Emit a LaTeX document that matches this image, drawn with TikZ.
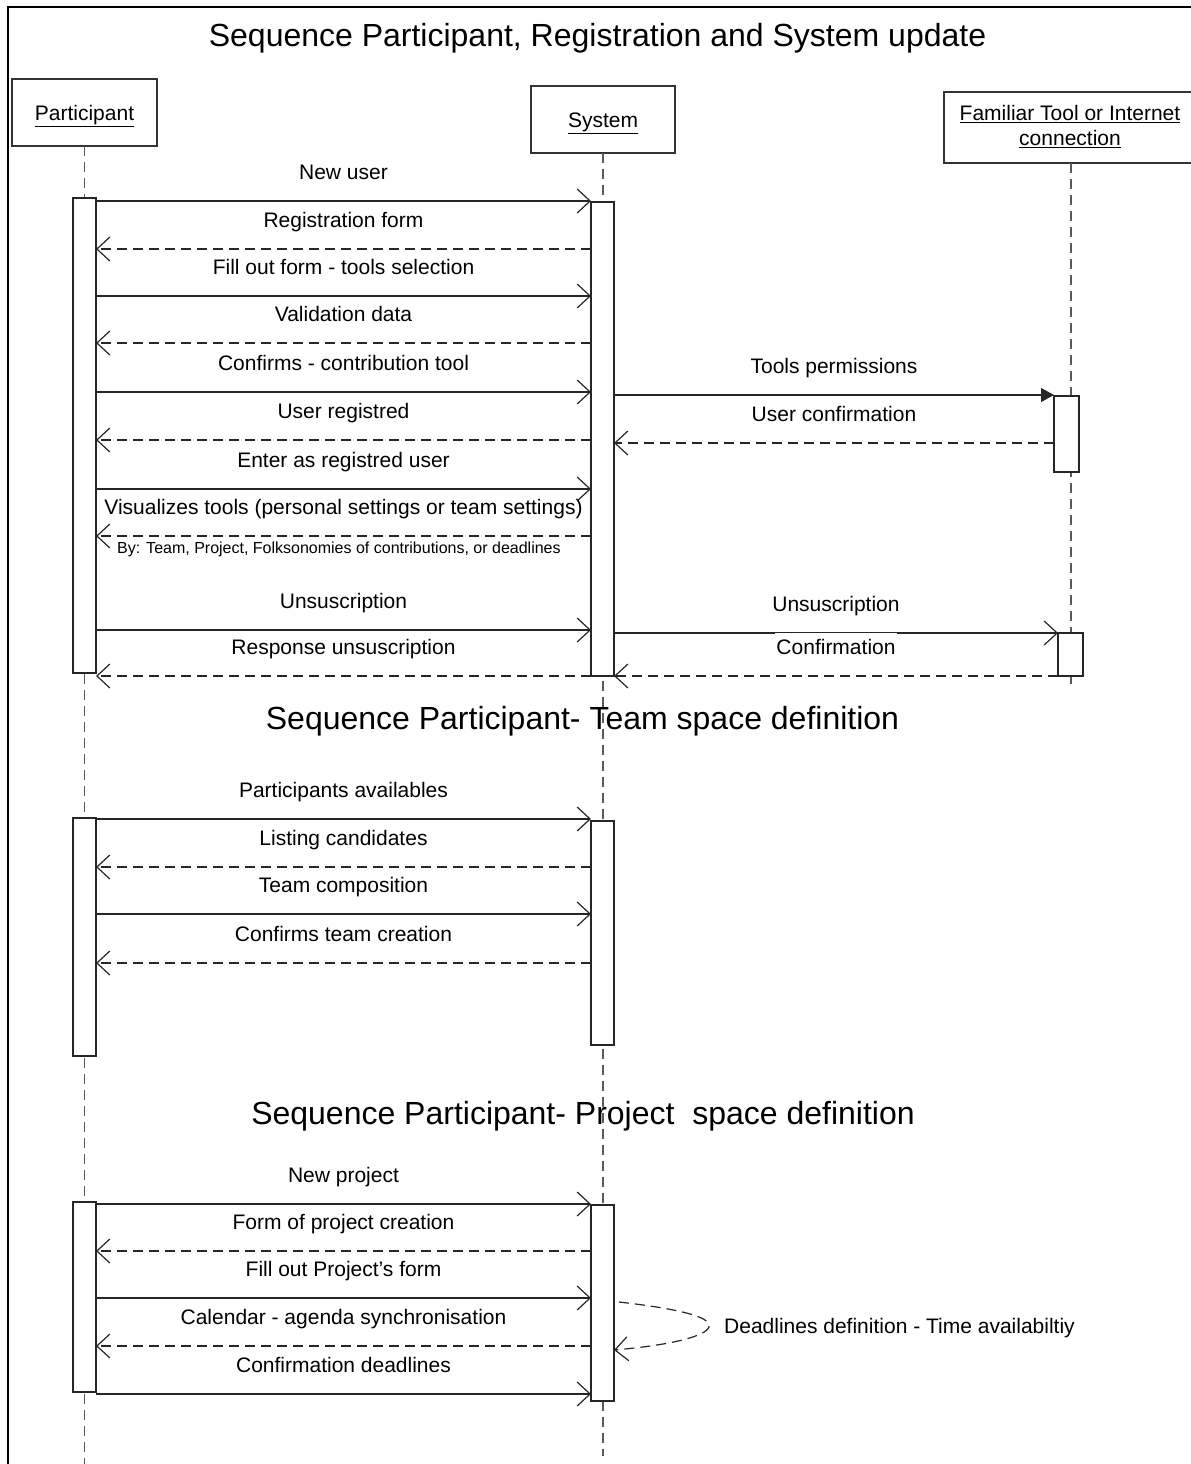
\documentclass[tikz,border=0pt]{standalone}
\usepackage{fontspec}
\setmainfont{Liberation Sans}
\usetikzlibrary{arrows.meta}
\begin{document}
\begin{tikzpicture}[x=1pt,y=-1pt,
  frame/.style={draw=black, line width=2.4pt},
  head/.style={draw=black!80, line width=1.3pt, fill=white, inner sep=0pt, outer sep=0pt,
    font=\fontsize{21}{25}\selectfont, text height=15pt, text depth=0pt},
  act/.style={draw=black!85, line width=1.2pt, fill=white, inner sep=0pt, outer sep=0pt,
    minimum width=23pt, anchor=north west},
  lifeline/.style={draw=black!65, line width=1.3pt, dash pattern=on 10pt off 6pt},
  call/.style={draw=black!85, line width=1.2pt,
    -{Straight Barb[length=13pt,width=24pt,line width=1.2pt]}},
  reply/.style={call, dash pattern=on 10pt off 6pt},
  signal/.style={draw=black!85, line width=1.2pt, -{Triangle[length=13pt,width=14pt]}},
  msg/.style={font=\fontsize{21}{25}\selectfont, inner sep=0pt},
  lbl/.style={msg, midway, anchor=base, yshift=22pt},
  note/.style={font=\fontsize{16}{19}\selectfont, inner sep=0pt, anchor=base west},
  heading/.style={font=\fontsize{32}{38}\selectfont, inner sep=0pt, anchor=base}
]
\useasboundingbox (0,0) rectangle (1191,1464);

% outer frame
\draw[frame] (8,1480) -- (8,7) -- (1215,7);

% lifeline heads
\node[head, minimum width=145pt, minimum height=67pt] (part) at (84.5,112.5) {\underline{Participant}};
\node[head, minimum width=144pt, minimum height=67pt] (sys) at (603,119.5) {\underline{System}};
\node[head, minimum width=253pt, minimum height=71pt, anchor=north west] (tool) at (944,92) {};
\node[msg, align=center] (toollbl) at (1070,126.5) {\underline{Familiar Tool or Internet}\\\underline{connection}};

% lifelines
\coordinate (partend) at (0,1480);
\coordinate (sysend) at (0,1456);
\coordinate (tooltop) at (1071,163);
\coordinate (toolend) at (1071,684);
\draw[lifeline] (part.south) -- (part.south |- partend);
\draw[lifeline] (sys.south) -- (sys.south |- sysend);
\draw[lifeline] (tooltop) -- (toolend);

% activation bars
\node[act, minimum height=475pt] (pa1) at (73,198) {};
\node[act, minimum height=474pt] (sa1) at (591,202) {};
\node[act, minimum width=25pt, minimum height=76pt] (ta1) at (1054,396) {};
\node[act, minimum width=25pt, minimum height=43pt] (ta2) at (1058,633) {};
\node[act, minimum height=238pt] (pa2) at (73,818) {};
\node[act, minimum height=224pt] (sa2) at (591,821) {};
\node[act, minimum height=190pt] (pa3) at (73,1202) {};
\node[act, minimum height=196pt] (sa3) at (591,1205) {};

% headings
\node[heading] (t1) at (597.5,47) {Sequence Participant, Registration and System update};
\node[heading] (t2) at (582.5,729.5) {Sequence Participant- Team space definition};
\node[heading] (t3) at (583,1124.5) {Sequence Participant- Project\ \ space definition};

% message levels, first sequence
\coordinate (m1) at (0,201);
\coordinate (m2) at (0,249);
\coordinate (m3) at (0,296);
\coordinate (m4) at (0,343);
\coordinate (m5) at (0,392);
\coordinate (m6) at (0,395);
\coordinate (m7) at (0,440);
\coordinate (m8) at (0,443);
\coordinate (m9) at (0,489);
\coordinate (m10) at (0,536);
\coordinate (m11) at (0,630);
\coordinate (m12) at (0,633);
\coordinate (m13) at (0,676);

\draw[call] (pa1.east |- m1) -- node[lbl] {New user} (sa1.west |- m1);
\draw[reply] (sa1.west |- m2) -- node[lbl] {Registration form} (pa1.east |- m2);
\draw[call] (pa1.east |- m3) -- node[lbl] {Fill out form - tools selection} (sa1.west |- m3);
\draw[reply] (sa1.west |- m4) -- node[lbl] {Validation data} (pa1.east |- m4);
\draw[call] (pa1.east |- m5) -- node[lbl] {Confirms - contribution tool} (sa1.west |- m5);
\draw[signal] (sa1.east |- m6) -- node[lbl] {Tools permissions} (ta1.west |- m6);
\draw[reply] (sa1.west |- m7) -- node[lbl] {User registred} (pa1.east |- m7);
\draw[reply] (ta1.west |- m8) -- node[lbl] {User confirmation} (sa1.east |- m8);
\draw[call] (pa1.east |- m9) -- node[lbl] {Enter as registred user} (sa1.west |- m9);
\draw[reply] (sa1.west |- m10) -- node[lbl] {Visualizes tools (personal settings or team settings)} (pa1.east |- m10);
\node[note] (bynote) at (117,553) {By: Team, Project, Folksonomies of contributions, or deadlines};
\draw[call] (pa1.east |- m11) -- node[lbl] {Unsuscription} (sa1.west |- m11);
\draw[call] (sa1.east |- m12) -- node[lbl] {Unsuscription} (ta2.west |- m12);
\draw[reply] (sa1.west |- m13) -- node[lbl] {Response unsuscription} (pa1.east |- m13);
\draw[reply] (ta2.west |- m13) -- node[lbl, fill=white, inner xsep=1pt, inner ysep=6pt] {Confirmation} (sa1.east |- m13);

% second sequence
\coordinate (n1) at (0,819);
\coordinate (n2) at (0,867);
\coordinate (n3) at (0,914);
\coordinate (n4) at (0,963);
\draw[call] (pa2.east |- n1) -- node[lbl] {Participants availables} (sa2.west |- n1);
\draw[reply] (sa2.west |- n2) -- node[lbl] {Listing candidates} (pa2.east |- n2);
\draw[call] (pa2.east |- n3) -- node[lbl] {Team composition} (sa2.west |- n3);
\draw[reply] (sa2.west |- n4) -- node[lbl] {Confirms team creation} (pa2.east |- n4);

% third sequence
\coordinate (k1) at (0,1204);
\coordinate (k2) at (0,1251);
\coordinate (k3) at (0,1298);
\coordinate (k4) at (0,1346);
\coordinate (k5) at (0,1394);
\draw[call] (pa3.east |- k1) -- node[lbl] {New project} (sa3.west |- k1);
\draw[reply] (sa3.west |- k2) -- node[lbl] {Form of project creation} (pa3.east |- k2);
\draw[call] (pa3.east |- k3) -- node[lbl] {Fill out Project's form} (sa3.west |- k3);
\draw[reply] (sa3.west |- k4) -- node[lbl] {Calendar - agenda synchronisation} (pa3.east |- k4);
\draw[call] (pa3.east |- k5) -- node[lbl] {Confirmation deadlines} (sa3.west |- k5);

% self message on the system
\coordinate (selfout) at (619,1302);
\coordinate (selfin) at (0,1350);
\draw[reply] (selfout) .. controls (690,1310) and (712,1319) .. (709,1327)
  .. controls (706,1336) and (672,1345) .. (sa3.east |- selfin);
\node[msg, anchor=base west] (selflbl) at (724,1333.5) {Deadlines definition - Time availabiltiy};

\end{tikzpicture}
\end{document}
